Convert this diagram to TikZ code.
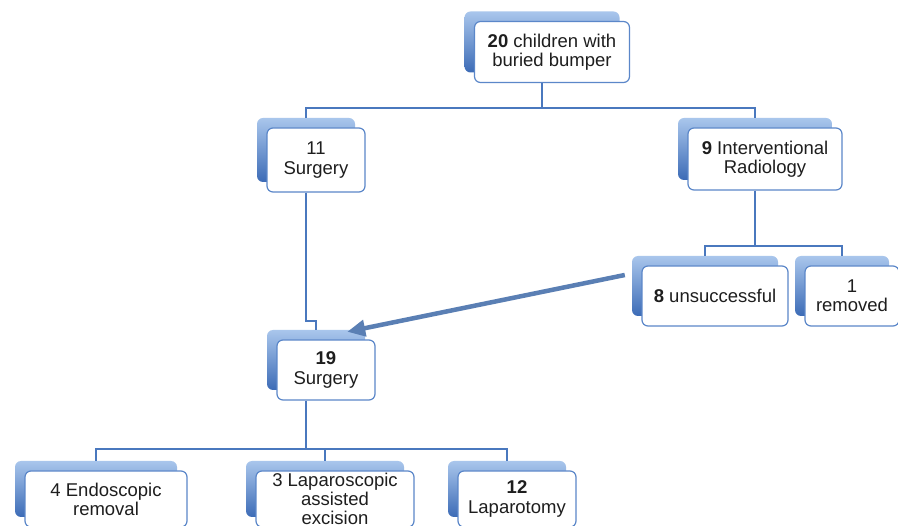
\documentclass[tikz,border=0pt]{standalone}
\usepackage{fontspec}
\setmainfont{Liberation Sans}
\usepackage{tikz}
\usetikzlibrary{arrows.meta,calc}

\definecolor{boxline}{HTML}{5B87C9}
\definecolor{linkblue}{HTML}{4A78BE}
\definecolor{backtop}{HTML}{A9C6EC}
\definecolor{backbot}{HTML}{3C6BB6}
\definecolor{arrowblue}{HTML}{5A7FB4}
\definecolor{txt}{HTML}{1E1E1E}

\begin{document}
\begin{tikzpicture}[x=1pt,y=-1pt,
  back/.style={rectangle,rounded corners=6pt,top color=backtop,bottom color=backbot,draw=none,inner sep=0pt},
  front/.style={rectangle,rounded corners=6pt,fill=white,draw=boxline,line width=1.2pt,inner sep=0pt,
    align=center,text=txt,font=\fontsize{18.5}{19.2}\selectfont},
  link/.style={draw=linkblue,line width=1.3pt},
  bigarrow/.style={draw=arrowblue,line width=4.5pt,-{Triangle[length=18pt,width=16pt]}}]
\useasboundingbox (0,0) rectangle (898,526);
\clip (0,0) rectangle (898,526);
\fill[white] (0,0) rectangle (898,526);
% boxes: name / centre x / centre y / width / height / text
\foreach \n/\x/\y/\w/\h/\t in %
{top/552/52/155/61/{\textbf{20} children with\\buried bumper},
 s11/316/160/98/64/{11\\Surgery},
 ir/765/159/154/62/{\textbf{9} Interventional\\Radiology},
 uns/715/296/146/60/{\textbf{8} unsuccessful},
 rem/852/296/94/60/{1\\removed},
 s19/326/370/98/60/{\textbf{19}\\Surgery},
 e4/106/499/162/56/{4 Endoscopic\\removal},
 lap3/335/499/158/56/{3 Laparoscopic\\assisted\\excision},
 l12/517/499/118/56/{\textbf{12}\\Laparotomy}} {
   \node[back,minimum width=\w pt,minimum height=\h pt] (\n-b) at (\x-10,\y-10) {};
   \node[front,minimum width=\w pt,minimum height=\h pt] (\n) at (\x,\y) {\t};
}
\coordinate (j1) at (0,108);
\coordinate (j2) at (0,246);
\coordinate (j3) at (0,321);
\coordinate (j4) at (0,449);
\draw[link] (top-b |- top.south) -- (top-b |- j1) -| (s11-b.north);
\draw[link] (top-b |- j1) -| (ir-b.north);
\draw[link] (ir-b |- ir.south) -- (ir-b |- j2) -| (uns-b.north);
\draw[link] (ir-b |- j2) -| (rem-b.north);
\draw[link] (s11-b |- s11.south) -- (s11-b |- j3) -| (s19-b.north);
\draw[link] (s11-b |- s19.south) -- (s11-b |- j4);
\foreach \n in {e4,lap3,l12} {
   \draw[link] (s11-b |- j4) -| (\n-b.north);
}
\draw[bigarrow] ([shift={(-7,-11)}]uns-b.west) -- ([shift={(-18,2)}]s19-b.north east);
\end{tikzpicture}
\end{document}
